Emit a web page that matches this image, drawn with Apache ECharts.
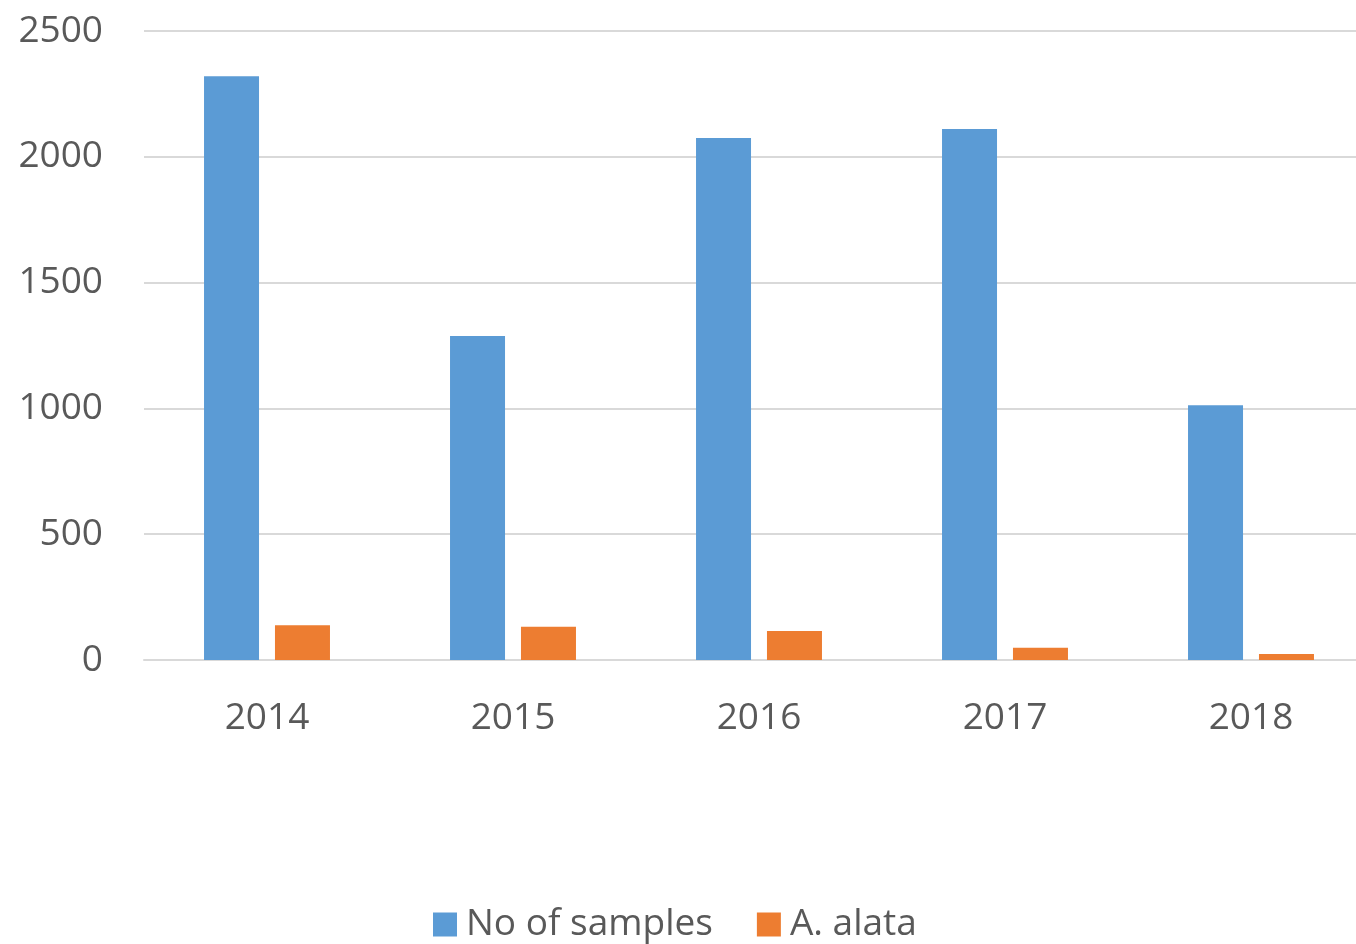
<!DOCTYPE html>
<html>
<head>
<meta charset="utf-8">
<script src="https://cdn.jsdelivr.net/npm/echarts@6/dist/echarts.min.js"></script>
<style>html,body{margin:0;padding:0;background:#fff;overflow:hidden}#c{width:1374px;height:944px}</style>
</head>
<body>
<div id="c"></div>
<script>
const categories = ['2014', '2015', '2016', '2017', '2018'];
const samples = [2320, 1288, 2075, 2110, 1013];
const alata = [138, 132, 115, 49, 24];
const seriesNames = ['No of samples', 'A. alata'];

const chart = echarts.init(document.getElementById('c'));
const font = 'Open Sans';
chart.setOption({
  animation: false,
  grid: { left: 144, right: 0, top: 31, bottom: 284, containLabel: false },
  legend: {
    bottom: -4, left: 428,
    itemWidth: 24, itemHeight: 24, itemGap: 44,
    icon: 'rect',
    textStyle: { fontFamily: font, fontSize: 37, color: '#595959', padding: [0, 0, 0, 4] },
    data: seriesNames
  },
  xAxis: {
    type: 'category', data: categories,
    axisLine: { lineStyle: { color: '#d9d9d9', width: 2 } },
    axisTick: { show: false },
    axisLabel: { fontFamily: font, fontSize: 37, color: '#595959', margin: 40 }
  },
  yAxis: {
    type: 'value', min: 0, max: 2500, interval: 500,
    axisLine: { show: false }, axisTick: { show: false },
    splitLine: { lineStyle: { color: '#d9d9d9', width: 2 } },
    axisLabel: { fontFamily: font, fontSize: 37, color: '#595959', margin: 41, formatter: v => String(v) }
  },
  series: [
    { name: seriesNames[0], type: 'bar', data: samples, barWidth: 55, barGap: '29%', itemStyle: { color: '#5b9bd5' } },
    { name: seriesNames[1], type: 'bar', data: alata, barWidth: 55, barGap: '29%', itemStyle: { color: '#ed7d31' } }
  ]
});
</script>
</body>
</html>
